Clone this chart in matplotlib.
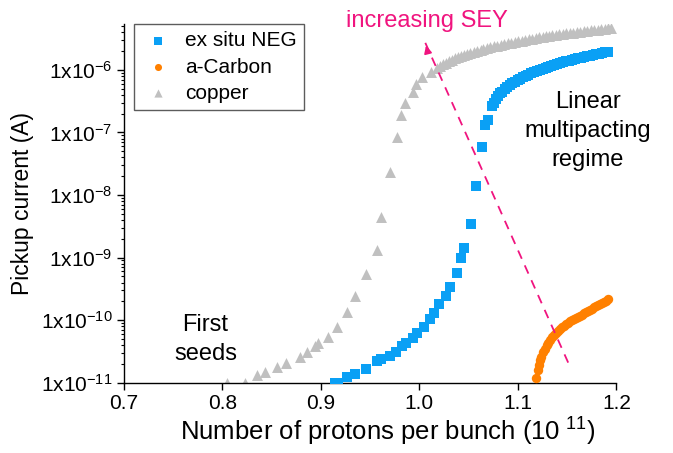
import matplotlib
matplotlib.use("Agg")
import matplotlib.pyplot as plt
import numpy as np
from matplotlib.ticker import LogLocator, FixedLocator, NullFormatter, FuncFormatter

plt.rcParams['font.family'] = ['Liberation Sans', 'DejaVu Sans']
plt.rcParams['mathtext.default'] = 'regular'

# copper: sparse onset then dense saturation band
copper_x = [0.805, 0.823, 0.835, 0.843, 0.855, 0.865, 0.879, 0.886, 0.894, 0.897,
            0.907, 0.916, 0.926, 0.935, 0.946, 0.957, 0.961, 0.970, 0.977, 0.981,
            0.985, 0.993, 0.997, 1.003, 1.012, 1.018,
            1.021, 1.024, 1.027, 1.030, 1.033, 1.036, 1.039, 1.042, 1.045, 1.048,
            1.051, 1.055, 1.058, 1.062, 1.065, 1.069, 1.072, 1.076, 1.079, 1.083,
            1.086, 1.090, 1.093, 1.097, 1.100, 1.104, 1.107, 1.111, 1.114, 1.118,
            1.121, 1.125, 1.128, 1.132, 1.135, 1.139, 1.142, 1.146, 1.149, 1.153,
            1.156, 1.160, 1.163, 1.167, 1.170, 1.174, 1.177, 1.181, 1.184, 1.188,
            1.191, 1.194]
copper_y = [1.0e-11, 1.0e-11, 1.35e-11, 1.5e-11, 1.8e-11, 2.1e-11, 2.6e-11, 3.1e-11, 3.8e-11, 4.3e-11,
            5.4e-11, 7.9e-11, 1.37e-10, 2.4e-10, 5.5e-10, 1.3e-9, 4.5e-9, 2.3e-8, 8.5e-8, 1.9e-7,
            2.9e-7, 4.5e-7, 6.0e-7, 7.6e-7, 9.4e-7, 1.07e-6,
            1.15e-6, 1.22e-6, 1.30e-6, 1.38e-6, 1.44e-6, 1.52e-6, 1.60e-6, 1.66e-6, 1.74e-6, 1.82e-6,
            1.88e-6, 1.96e-6, 2.02e-6, 2.10e-6, 2.16e-6, 2.24e-6, 2.30e-6, 2.38e-6, 2.44e-6, 2.52e-6,
            2.58e-6, 2.66e-6, 2.72e-6, 2.80e-6, 2.86e-6, 2.94e-6, 3.00e-6, 3.08e-6, 3.14e-6, 3.22e-6,
            3.29e-6, 3.36e-6, 3.42e-6, 3.49e-6, 3.55e-6, 3.62e-6, 3.68e-6, 3.75e-6, 3.81e-6, 3.88e-6,
            3.94e-6, 4.01e-6, 4.07e-6, 4.13e-6, 4.19e-6, 4.26e-6, 4.32e-6, 4.39e-6, 4.45e-6, 4.52e-6,
            4.60e-6, 4.70e-6]

# ex situ NEG
neg_x = [0.914, 0.917, 0.926, 0.935, 0.946, 0.957, 0.961, 0.970, 0.976, 0.982,
         0.986, 0.993, 0.998, 1.005, 1.011, 1.015, 1.020, 1.027, 1.031, 1.038,
         1.042, 1.045, 1.052, 1.057, 1.064, 1.067, 1.070, 1.074,
         1.076, 1.078, 1.080, 1.082, 1.084, 1.087, 1.089, 1.092, 1.094, 1.097,
         1.100, 1.102, 1.105, 1.108, 1.110, 1.113, 1.116, 1.119, 1.122, 1.125,
         1.128, 1.131, 1.134, 1.137, 1.140, 1.143, 1.146, 1.149, 1.152, 1.155,
         1.158, 1.161, 1.164, 1.167, 1.170, 1.173, 1.176, 1.179, 1.182, 1.185,
         1.188, 1.191]
neg_y = [1.0e-11, 1.0e-11, 1.25e-11, 1.4e-11, 1.67e-11, 2.2e-11, 2.4e-11, 2.7e-11, 3.1e-11, 3.8e-11,
         4.4e-11, 5.2e-11, 6.3e-11, 7.9e-11, 1.05e-10, 1.3e-10, 1.8e-10, 2.4e-10, 3.4e-10, 5.7e-10,
         1.0e-9, 1.4e-9, 3.4e-9, 1.4e-8, 5.8e-8, 1.3e-7, 1.6e-7, 2.6e-7,
         3.0e-7, 3.4e-7, 3.8e-7, 4.2e-7, 4.5e-7, 4.9e-7, 5.3e-7, 5.8e-7, 6.1e-7, 6.5e-7,
         6.8e-7, 7.2e-7, 7.7e-7, 8.1e-7, 8.4e-7, 8.8e-7, 9.1e-7, 9.6e-7, 1.00e-6, 1.05e-6,
         1.09e-6, 1.13e-6, 1.17e-6, 1.20e-6, 1.24e-6, 1.28e-6, 1.32e-6, 1.36e-6, 1.40e-6, 1.44e-6,
         1.48e-6, 1.52e-6, 1.56e-6, 1.60e-6, 1.64e-6, 1.68e-6, 1.72e-6, 1.76e-6, 1.80e-6, 1.85e-6,
         1.90e-6, 1.96e-6]

# a-Carbon
carbon_x = [1.118, 1.120, 1.121, 1.122, 1.123, 1.125, 1.127, 1.129, 1.131, 1.133,
            1.135, 1.137, 1.139, 1.141, 1.143, 1.145, 1.147, 1.149, 1.151, 1.153,
            1.155, 1.157, 1.159, 1.161, 1.163, 1.165, 1.167, 1.169, 1.171, 1.173,
            1.175, 1.177, 1.179, 1.181, 1.183, 1.185, 1.187, 1.189, 1.191]
carbon_y = [1.2e-11, 1.6e-11, 1.9e-11, 2.3e-11, 2.6e-11, 3.1e-11, 3.5e-11, 4.0e-11, 4.4e-11, 4.8e-11,
            5.3e-11, 5.8e-11, 6.2e-11, 6.8e-11, 7.2e-11, 7.7e-11, 8.2e-11, 8.7e-11, 9.1e-11, 9.6e-11,
            1.00e-10, 1.04e-10, 1.08e-10, 1.12e-10, 1.17e-10, 1.22e-10, 1.28e-10, 1.33e-10, 1.40e-10, 1.46e-10,
            1.53e-10, 1.60e-10, 1.66e-10, 1.72e-10, 1.80e-10, 1.88e-10, 1.95e-10, 2.05e-10, 2.20e-10]

x_ticks = [0.7, 0.8, 0.9, 1.0, 1.1, 1.2]
y_ticks = [1e-11, 1e-10, 1e-9, 1e-8, 1e-7, 1e-6]

# SEY trend arrow, tail and head
arrow_tail = (1.151, 2.1e-11)
arrow_head = (1.006, 2.7e-6)

blue = '#0aa0f5'
orange = '#ff8000'
grey = '#c0c0c0'
pink = '#f0147f'

fig = plt.figure(figsize=(6.73, 4.53), dpi=100)
ax = fig.add_axes([0.184, 0.155, 0.732, 0.792])

h_neg = ax.scatter(neg_x, neg_y, marker='s', s=48, color=blue, linewidths=0, label='ex situ NEG', zorder=3)
h_carbon = ax.scatter(carbon_x, carbon_y, marker='o', s=46, color=orange, linewidths=0, label='a-Carbon', zorder=3)
h_copper = ax.scatter(copper_x, copper_y, marker='^', s=62, color=grey, linewidths=0, label='copper', zorder=2)

ax.set_yscale('log')
ax.set_xlim(0.7, 1.2)
ax.set_ylim(1e-11, 5.4e-6)

ax.xaxis.set_major_locator(FixedLocator(x_ticks))
ax.xaxis.set_major_formatter(FuncFormatter(lambda v, p: f'{v:.1f}'))
ax.yaxis.set_major_locator(FixedLocator(y_ticks))
ax.yaxis.set_minor_locator(LogLocator(base=10, subs=np.arange(2, 10), numticks=20))
ax.yaxis.set_minor_formatter(NullFormatter())
ax.yaxis.set_major_formatter(FuncFormatter(lambda v, p: '1x10$^{%d}$' % round(np.log10(v))))

ax.tick_params(axis='both', which='major', direction='out', length=5, width=1, labelsize=15, pad=3)
ax.tick_params(axis='y', which='minor', direction='out', length=2.5, width=0.8)
for side in ['top', 'right']:
    ax.spines[side].set_visible(False)
for side in ['left', 'bottom']:
    ax.spines[side].set_linewidth(1)

ax.set_xlabel('Number of protons per bunch (10$^{\\ 11}$)', fontsize=18.5, labelpad=2, x=0.535)
ax.set_ylabel('Pickup current (A)', fontsize=16.5, labelpad=5)

# dashed trend line, then a solid head at its end
ax.plot([arrow_tail[0], arrow_head[0]], [arrow_tail[1], arrow_head[1]],
        ls=(0, (5, 4)), color=pink, lw=1.3, zorder=4)
ax.annotate('', xy=arrow_head, xytext=(1.0085, 1.9e-6),
            arrowprops=dict(arrowstyle='-|>', color=pink, lw=1.3, mutation_scale=11), zorder=4)
ax.text(1.008, 6.0e-6, 'increasing SEY', color=pink, fontsize=17, ha='center', va='center', clip_on=False)

ax.text(1.171, 1.06e-7, 'Linear\nmultipacting\nregime', fontsize=17, ha='center', va='center',
        linespacing=1.42)
ax.text(0.783, 4.9e-11, 'First\nseeds', fontsize=17, ha='center', va='center', linespacing=1.4)

leg = ax.legend(handles=[h_neg, h_carbon, h_copper], loc='upper left', bbox_to_anchor=(0.02, 1.0),
                fontsize=15, frameon=True, fancybox=False, edgecolor='#333333', markerscale=0.75,
                handletextpad=0.5, borderpad=0.35, labelspacing=0.35, handlelength=1.6, borderaxespad=0)
leg.get_frame().set_linewidth(1)

fig.savefig('out.png', dpi=100)
